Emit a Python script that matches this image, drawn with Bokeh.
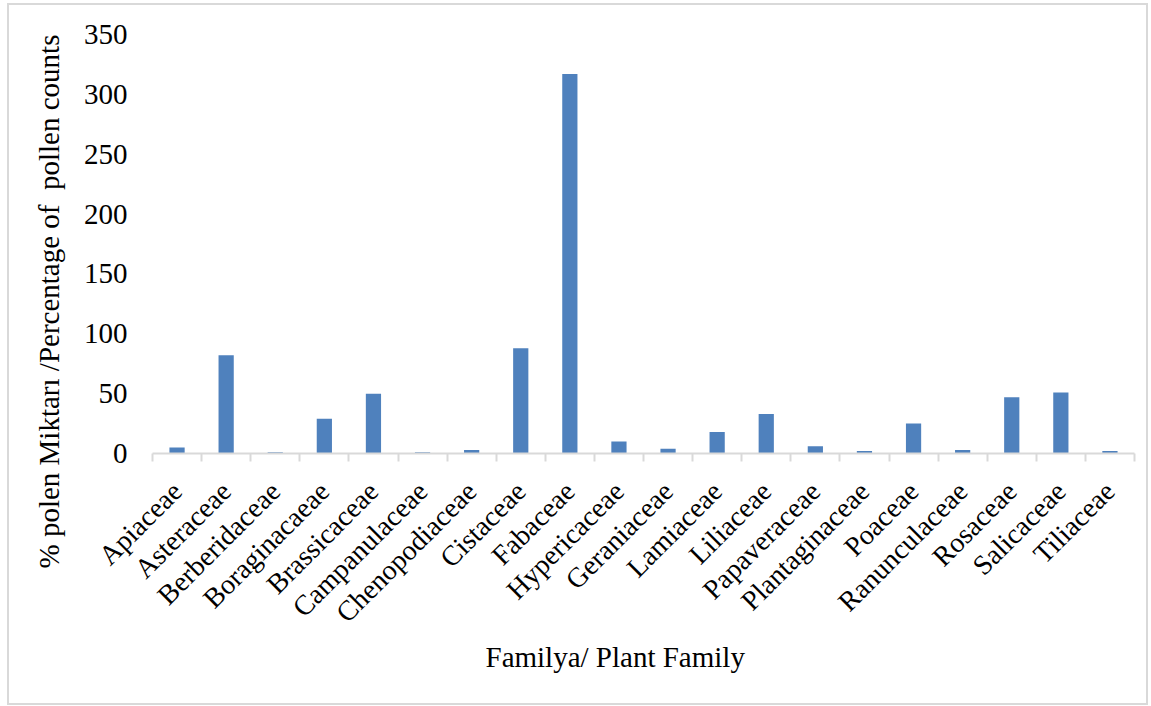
import math
from bokeh.plotting import figure
from bokeh.models import (ColumnDataSource, Range1d, LinearAxis, FixedTicker, Title)
from bokeh.embed import file_html
from bokeh.resources import INLINE

families = ["Apiaceae", "Asteraceae", "Berberidaceae", "Boraginacaeae", "Brassicaceae",
            "Campanulaceae", "Chenopodiaceae", "Cistaceae", "Fabaceae", "Hypericaceae",
            "Geraniaceae", "Lamiaceae", "Liliaceae", "Papaveraceae", "Plantaginaceae",
            "Poaceae", "Ranunculaceae", "Rosaceae", "Salicaceae", "Tiliaceae"]
counts = [5, 82, 1, 29, 50, 1, 3, 88, 317, 10, 4, 18, 33, 6, 2, 25, 3, 47, 51, 2]
y_ticks = [0, 50, 100, 150, 200, 250, 300, 350]
y_title = "% polen Miktarı /Percentage of\u00a0 pollen counts"
x_title = "Familya/ Plant Family"

FONT = "Liberation Serif"
BAR = "#4f81bd"
AXIS = "#d9d9d9"

n = len(families)
centers = [i + 0.5 for i in range(n)]
bounds = list(range(n + 1))
src = ColumnDataSource(dict(x=centers, family=families, count=counts))

p = figure(width=1141, height=702,
           x_range=Range1d(0, n), y_range=Range1d(0, 350),
           output_backend="svg", toolbar_location=None, x_axis_location=None,
           min_border_left=143, min_border_right=16, min_border_top=29,
           min_border_bottom=254)
p.margin = (3, 3, 0, 7)
p.styles = {"border": "2px solid #d9d9d9"}
p.outline_line_color = None
p.background_fill_color = "white"
p.border_fill_color = "white"
p.xgrid.grid_line_color = None
p.ygrid.grid_line_color = None

p.vbar(x="x", top="count", width=0.31, source=src, fill_color=BAR, line_color=None)

# y axis
ya = p.yaxis[0]
ya.ticker = FixedTicker(ticks=y_ticks)
ya.axis_line_color = None
ya.major_tick_line_color = None
ya.major_tick_out = 0
ya.major_tick_in = 0
ya.minor_tick_line_color = None
ya.major_label_standoff = 25
ya.major_label_text_font = FONT
ya.major_label_text_font_size = "29px"
ya.major_label_text_color = "black"

# x axis: boundary ticks drawn as minor ticks, names at the bars
xa = LinearAxis(ticker=FixedTicker(ticks=centers, minor_ticks=bounds),
                major_label_overrides={c: f for c, f in zip(centers, families)},
                axis_line_color=AXIS, axis_line_width=2,
                major_tick_line_color=None, major_tick_in=0, major_tick_out=0,
                minor_tick_line_color=AXIS, minor_tick_line_width=2,
                minor_tick_in=0, minor_tick_out=8,
                major_label_orientation=math.pi / 4,
                major_label_standoff=25,
                major_label_text_font=FONT,
                major_label_text_font_size="28px",
                major_label_text_color="black")
p.add_layout(xa, "below")

p.add_layout(Title(text=x_title, align="left", offset=333, standoff=-7,
                   text_font=FONT, text_font_size="29px", text_font_style="normal",
                   text_color="black"), "below")
p.add_layout(Title(text=y_title, align="left", offset=-115, standoff=31,
                   text_font=FONT, text_font_size="29px", text_font_style="normal",
                   text_color="black"), "left")

open("out.html", "w").write(file_html(p, INLINE))
